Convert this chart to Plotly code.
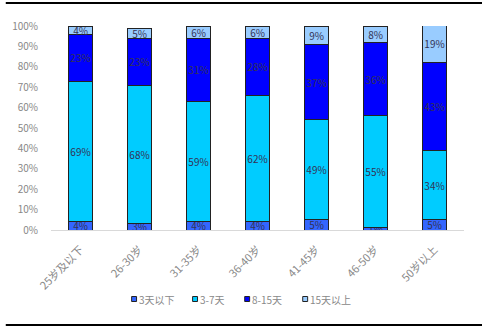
import plotly.graph_objects as go

categories = ["25岁及以下", "26-30岁", "31-35岁", "36-40岁", "41-45岁", "46-50岁", "50岁以上"]
s_lt3 = [4, 3, 4, 4, 5, 1, 5]
s_3_7 = [69, 68, 59, 62, 49, 55, 34]
s_8_15 = [23, 23, 31, 28, 37, 36, 43]
s_gt15 = [4, 5, 6, 6, 9, 8, 19]
series_names = ["3天以下", "3-7天", "8-15天", "15天以上"]
colors = ["#3366FF", "#00CCFF", "#0000FF", "#99CCFF"]

font = "Noto Sans CJK SC, sans-serif"
W, H = 482, 329
ML, MR, MT, MB = 44, 18, 26, 99
PW, PH = W - ML - MR, H - MT - MB

def px_x(px):
    return (px - ML) / PW

def px_y(py):
    return (H - MB - py) / PH

fig = go.Figure()
for name, vals, c in zip(series_names, [s_lt3, s_3_7, s_8_15, s_gt15], colors):
    fig.add_trace(go.Bar(
        x=categories, y=vals, name=name, showlegend=False,
        marker=dict(color=c, line=dict(color="#222222", width=1)),
        text=[f"{v}%" for v in vals], textposition="inside",
        insidetextanchor="middle", constraintext="none",
        textfont=dict(color="#333355", size=10, family=font),
        textangle=0,
    ))

fig.update_layout(
    barmode="stack", bargap=0.6,
    width=W, height=H,
    margin=dict(l=ML, r=MR, t=MT, b=MB),
    plot_bgcolor="white", paper_bgcolor="white",
    font=dict(family=font, size=10, color="#888888"),
    showlegend=False,
    uniformtext=dict(minsize=8, mode="show"),
)
fig.update_yaxes(range=[0, 100], tickvals=list(range(0, 101, 10)),
                 ticktext=[f"{v}%" for v in range(0, 101, 10)],
                 showgrid=False, zeroline=False, showline=False, ticks="", ticklabelstandoff=12)
fig.update_xaxes(showline=True, linecolor="#d9d9d9", linewidth=1, tickangle=-45, ticks="",
                 showgrid=False, ticklabelstandoff=8, tickfont=dict(size=11))

# frame lines top and bottom
for py in [3, 325]:
    fig.add_shape(type="line", xref="paper", yref="paper", x0=px_x(-2), x1=px_x(484),
                  y0=px_y(py), y1=px_y(py), line=dict(color="black", width=2))

# manual legend
legend_x = [126, 188, 241, 300]
ly = 299
for name, c, lx in zip(series_names, colors, legend_x):
    fig.add_shape(type="rect", xref="paper", yref="paper",
                  x0=px_x(lx), x1=px_x(lx + 5), y0=px_y(ly - 2.5), y1=px_y(ly + 2.5),
                  fillcolor=c, line=dict(color="#222222", width=1))
    fig.add_annotation(xref="paper", yref="paper", x=px_x(lx + 5), y=px_y(ly),
                       text=name, showarrow=False, xanchor="left", yanchor="middle",
                       font=dict(size=10, color="#888888", family=font))

fig.write_html("out.html")
